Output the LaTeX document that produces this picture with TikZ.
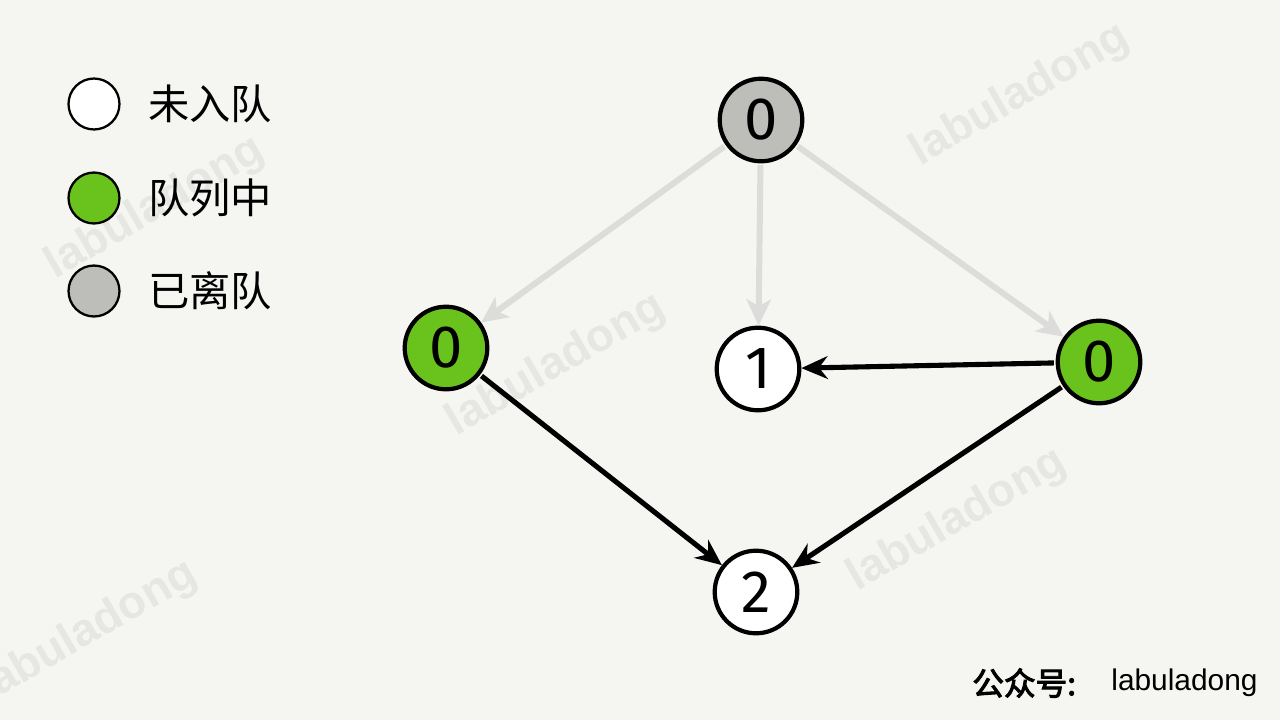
\documentclass[tikz,border=0pt]{standalone}
\usepackage{fontspec}
\setmainfont{Liberation Sans}
\newfontfamily\cjk{Noto Sans CJK SC}
\newfontfamily\cjkbold[FakeBold=3]{Noto Sans CJK SC}
\newfontfamily\digitfont{Fira Sans}
\usetikzlibrary{arrows.meta}
\definecolor{paper}{HTML}{F5F5F2}
\definecolor{qgreen}{HTML}{6AC31D}
\definecolor{qgray}{HTML}{BDBDBA}
\definecolor{lightedge}{HTML}{DCDCDA}
\definecolor{wmark}{HTML}{E6E6E3}
\tikzset{
  vert/.style={circle, draw=black, line width=2.4pt, minimum size=47pt, inner sep=0pt,
    font=\digitfont\fontsize{34}{34}\selectfont},
  legendc/.style={circle, draw=black, line width=1.3pt, minimum size=29pt, inner sep=0pt},
  legendt/.style={anchor=west, font=\cjk\fontsize{23.5}{23.5}\selectfont, inner sep=0pt},
  doneedge/.style={draw=lightedge, line width=3.4pt, -{Stealth[length=15pt,width=14pt,inset=4pt]}, shorten <=1pt},
  darkedge/.style={draw=black, line width=2.9pt, -{Stealth[length=15pt,width=13pt,inset=5pt]}, shorten <=1pt},
  wm/.style={rotate=30, text=wmark, inner sep=0pt, font=\fontsize{26}{26}\selectfont\bfseries}
}
\begin{document}
\begin{tikzpicture}[x=0.02cm, y=-0.02cm]
\fill[paper] (0,0) rectangle (1280,720);
\useasboundingbox (0,0) rectangle (1280,720);
% watermarks
\node[wm] (w1) at (155,208) {labuladong};
\node[wm] (w2) at (556,365) {labuladong};
\node[wm] (w3) at (957,520) {labuladong};
\node[wm] (w4) at (1020,95) {labuladong};
\node[wm] (w5) at (88,632) {labuladong};
% legend
\node[legendc, fill=white] (l1) at (94,104) {};
\node[legendc, fill=qgreen] (l2) at (94,198) {};
\node[legendc, fill=qgray] (l3) at (94,291) {};
\node[legendt] (t1) at (148,104) {未入队};
\node[legendt] (t2) at (148,198) {队列中};
\node[legendt] (t3) at (148,291) {已离队};
% graph nodes
\node[vert, fill=qgray] (top) at (761,120) {0};
\node[vert, fill=qgreen] (left) at (446,348) {0};
\node[vert, fill=white] (one) at (758,369) {1};
\node[vert, fill=qgreen] (right) at (1099,362) {0};
\node[vert, fill=white] (two) at (756,592) {2};
% edges
\draw[doneedge] (top) -- (left);
\draw[doneedge] (top) -- (one);
\draw[doneedge] (top) -- (right);
\draw[darkedge] (right) -- (one);
\draw[darkedge] (left) -- (two);
\draw[darkedge] (right) -- (two);
% footer
\node[anchor=west, inner sep=0pt, font=\cjkbold\fontsize{18}{18}\selectfont] (f1) at (972,683) {公众号:};
\node[anchor=west, inner sep=0pt, font=\fontsize{17}{17}\selectfont] (f2) at (1111,683) {labuladong};
\end{tikzpicture}
\end{document}
